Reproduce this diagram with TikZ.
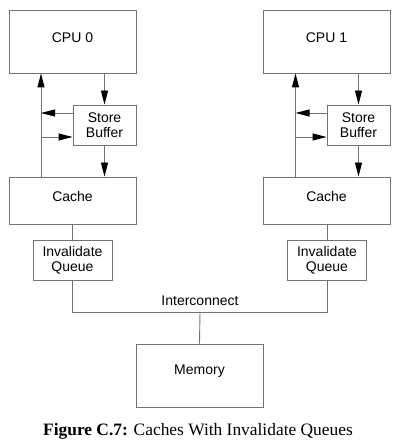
\documentclass[tikz,border=0pt]{standalone}
\usepackage{fontspec}
\setmainfont{Liberation Serif}
\newfontfamily\diagfont{Liberation Sans}
\usetikzlibrary{arrows.meta}
\begin{document}
\begin{tikzpicture}[x=1pt,y=-1pt,
  txt/.style={font=\diagfont\fontsize{14}{15.5}\selectfont},
  box/.style={txt,draw=black!55,line width=0.9pt,inner sep=0pt,align=center},
  lbl/.style={txt,yshift=4pt},
  conn/.style={draw=black!55,line width=0.9pt},
  arr/.style={conn,-{Triangle[length=14pt,width=7pt,fill=black,color=black]}}]
\useasboundingbox (0,0) rectangle (400,446);
% CPU 0 side
\node[box,minimum width=127pt,minimum height=63pt,label={[lbl]center:CPU 0}] (cpu0) at (72.5,41.5) {};
\node[box,minimum width=63pt,minimum height=40pt] (sb0) at (104.5,125) {Store\\Buffer};
\node[box,minimum width=127pt,minimum height=47pt,label={[lbl]center:Cache}] (cache0) at (72.5,200.5) {};
\node[box,minimum width=79pt,minimum height=40pt] (iq0) at (72.5,260) {Invalidate\\Queue};
% CPU 1 side
\node[box,minimum width=127pt,minimum height=63pt,label={[lbl]center:CPU 1}] (cpu1) at (326.5,41.5) {};
\node[box,minimum width=63pt,minimum height=40pt] (sb1) at (358.5,125) {Store\\Buffer};
\node[box,minimum width=127pt,minimum height=47pt,label={[lbl]center:Cache}] (cache1) at (326.5,200.5) {};
\node[box,minimum width=79pt,minimum height=40pt] (iq1) at (327,260) {Invalidate\\Queue};
% memory
\node[box,minimum width=127pt,minimum height=63pt,label={[lbl]center:Memory}] (mem) at (199.5,375.5) {};
% interconnect
\coordinate (ic) at (200,312);
\node[txt,anchor=base] (iclbl) at (200,305) {Interconnect};
% bypass columns
\coordinate (v0) at (41,0);
\coordinate (v1) at (295.5,0);
% CPU0 connectors
\draw[arr] (cache0.north -| v0) -- (cpu0.south -| v0);
\draw[arr] (sb0.west |- 0,113) -- (v0 |- 0,113);
\draw[arr] (v0 |- 0,137) -- (sb0.west |- 0,137);
\draw[arr] (cpu0.south -| sb0) -- (sb0.north);
\draw[arr] (sb0.south) -- (sb0.south |- cache0.north);
\draw[conn] (cache0.south) -- (iq0.north);
% CPU1 connectors
\draw[arr] (cache1.north -| v1) -- (cpu1.south -| v1);
\draw[arr] (sb1.west |- 0,113) -- (v1 |- 0,113);
\draw[arr] (v1 |- 0,137) -- (sb1.west |- 0,137);
\draw[arr] (cpu1.south -| sb1) -- (sb1.north);
\draw[arr] (sb1.south) -- (sb1.south |- cache1.north);
\draw[conn] (cache1.south -| iq1) -- (iq1.north);
% bus
\draw[conn] (iq0.south) -- (iq0.south |- ic) -- (iq1.south |- ic) -- (iq1.south);
\draw[conn] (ic) -- (mem.north);
% caption
\node[anchor=base,font=\fontsize{17.4}{20}\selectfont] (cap) at (198,435) {\textbf{Figure C.7:} Caches With Invalidate Queues};
\end{tikzpicture}
\end{document}
